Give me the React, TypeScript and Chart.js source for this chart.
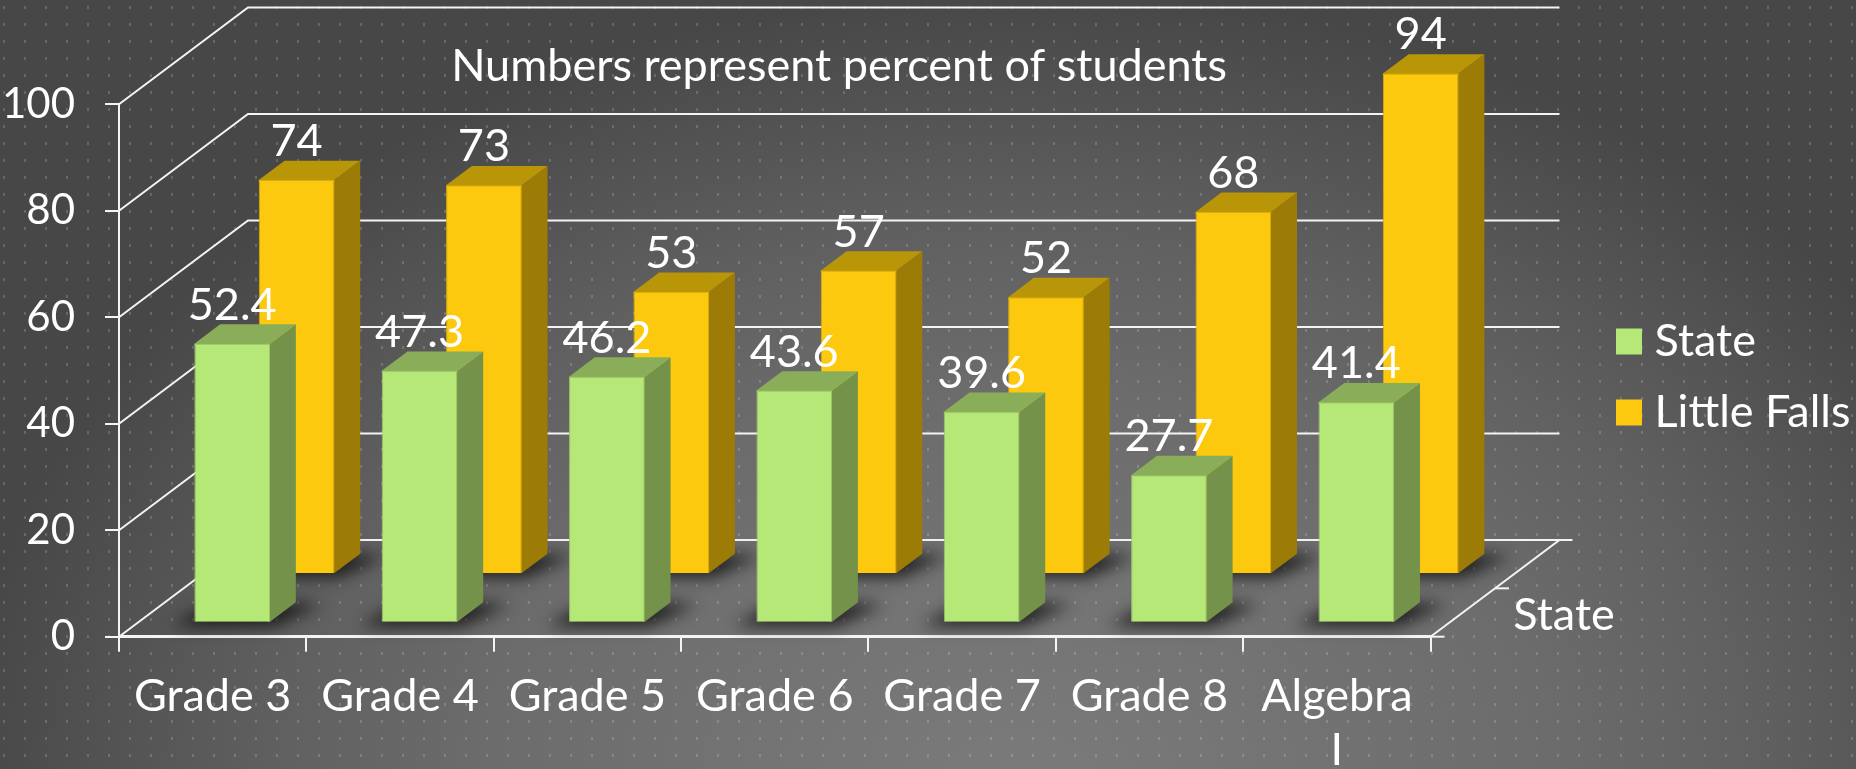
import React, { useEffect, useRef } from "react";
import { Chart, registerables } from "chart.js";

Chart.register(...registerables);

const categories = ["Grade 3", "Grade 4", "Grade 5", "Grade 6", "Grade 7", "Grade 8", ["Algebra", "I"]];
const stateValues = [52.4, 47.3, 46.2, 43.6, 39.6, 27.7, 41.4];
const littleFallsValues = [74, 73, 53, 57, 52, 68, 94];
const yTicks = [0, 20, 40, 60, 80, 100];
const titleText = "Numbers represent percent of students";
const depthLabel = "State";

const FONT = "Lato, 'Open Sans', sans-serif";
const FS = 45;
const WHITE = "#f4f4f4";
const DEPTH_X = 129;
const DEPTH_Y = 96.7;
const BAR_DEPTH = 0.2;
const looks = [
  { front: "#b6e878", edge: "#9cc766", side: "#75924a", top: "#8aad5a", depth: 0.145, nudge: 0.8 },
  { front: "#fdc90f", edge: "#d9ad0c", side: "#9d7b07", top: "#b99508", depth: 0.648, nudge: 0.3 },
];

function line(ctx: CanvasRenderingContext2D, pts: number[][]) {
  ctx.beginPath();
  pts.forEach((p, i) => (i ? ctx.lineTo(p[0], p[1]) : ctx.moveTo(p[0], p[1])));
}

const scene = {
  id: "scene",
  beforeDraw(chart: any) {
    const { ctx, width, height } = chart;
    ctx.save();
    ctx.translate(1020, 790);
    ctx.scale(1060, 800);
    const g = ctx.createRadialGradient(0, 0, 0, 0, 0, 1);
    g.addColorStop(0, "#7b7b7b");
    g.addColorStop(0.5, "#6c6c6c");
    g.addColorStop(0.7, "#606060");
    g.addColorStop(1, "#474747");
    ctx.fillStyle = g;
    ctx.fillRect(-2, -2, 4, 4);
    ctx.restore();
    ctx.fillStyle = "rgba(255,255,255,0.17)";
    for (let x = 3; x < width; x += 21) for (let y = 6; y < height; y += 17) ctx.fillRect(x, y, 2, 3);
  },
  afterLayout(chart: any) {
    const lg = chart.legend;
    if (!lg) return;
    const w = lg.width;
    const h = lg.height;
    lg.left = 1600;
    lg.right = 1600 + w;
    lg.top = 293;
    lg.bottom = 293 + h;
  },
  beforeDatasetsDraw(chart: any) {
    const { ctx, scales } = chart;
    const { left, right } = chart.chartArea;
    const y = scales.y;
    ctx.save();
    ctx.strokeStyle = WHITE;
    ctx.lineWidth = 2;
    yTicks.forEach((t) => {
      const py = y.getPixelForValue(t);
      line(ctx, [[left, py], [left + DEPTH_X, py - DEPTH_Y], [right + DEPTH_X, py - DEPTH_Y]]);
      ctx.stroke();
    });
    const y0 = y.getPixelForValue(0);
    line(ctx, [[right, y0], [right + DEPTH_X, y0 - DEPTH_Y], [right + DEPTH_X + 13, y0 - DEPTH_Y]]);
    ctx.stroke();
    line(ctx, [[right, y0], [right + 14, y0]]);
    ctx.stroke();
    line(ctx, [[right + DEPTH_X / 2, y0 - DEPTH_Y / 2], [right + DEPTH_X / 2 + 14, y0 - DEPTH_Y / 2]]);
    ctx.stroke();
    ctx.fillStyle = "#ffffff";
    ctx.textAlign = "center";
    ctx.textBaseline = "alphabetic";
    ctx.font = `${FS}px ${FONT}`;
    ctx.fillText(titleText, 839, 81);
    ctx.fillText(depthLabel, 1564, 630);
    ctx.restore();
  },
  beforeDatasetDraw(chart: any, args: any) {
    const { ctx } = chart;
    const look = looks[args.index];
    const dx = look.depth * DEPTH_X + look.nudge;
    const dy = -look.depth * DEPTH_Y;
    const w3 = BAR_DEPTH * DEPTH_X;
    const h3 = BAR_DEPTH * DEPTH_Y;
    ctx.save();
    ctx.translate(dx, dy);
    const bars = chart.getDatasetMeta(args.index).data;
    bars.forEach((el: any) => {
      const l = el.x - el.width / 2;
      const r = el.x + el.width / 2;
      ctx.save();
      ctx.filter = "blur(8px)";
      ctx.fillStyle = "rgba(0,0,0,0.72)";
      line(ctx, [[l - 22, el.base + 4], [r + 4, el.base + 4], [r + w3 + 26, el.base - h3 + 2], [l + w3, el.base - h3 - 2]]);
      ctx.fill();
      ctx.restore();
    });
    bars.forEach((el: any) => {
      const l = el.x - el.width / 2;
      const r = el.x + el.width / 2;
      ctx.fillStyle = look.side;
      line(ctx, [[r - 2, el.y], [r, el.y], [r + w3, el.y - h3], [r + w3, el.base - h3], [r, el.base], [r - 2, el.base]]);
      ctx.fill();
      ctx.fillStyle = look.top;
      line(ctx, [[l, el.y + 2], [l, el.y], [l + w3, el.y - h3], [r + w3, el.y - h3], [r, el.y], [r, el.y + 2]]);
      ctx.fill();
    });
  },
  afterDatasetDraw(chart: any) {
    chart.ctx.restore();
  },
  afterDatasetsDraw(chart: any) {
    const { ctx } = chart;
    ctx.save();
    ctx.fillStyle = "#ffffff";
    ctx.font = `${FS}px ${FONT}`;
    ctx.textAlign = "center";
    ctx.textBaseline = "alphabetic";
    [1, 0].forEach((i) => {
      const look = looks[i];
      const dx = look.depth * DEPTH_X + look.nudge;
      const dy = -look.depth * DEPTH_Y;
      chart.getDatasetMeta(i).data.forEach((el: any, k: number) => {
        ctx.fillText(String(chart.data.datasets[i].data[k]), el.x + dx, el.y + dy - 24);
      });
    });
    ctx.restore();
  },
};

export default function App() {
  const ref = useRef<HTMLCanvasElement>(null);
  useEffect(() => {
    const base = Chart.defaults.plugins.legend.labels.generateLabels;
    const chart = new Chart(ref.current as HTMLCanvasElement, {
      type: "bar",
      data: {
        labels: categories as any,
        datasets: [
          { label: "State", data: stateValues, backgroundColor: looks[0].front, borderColor: looks[0].edge, borderWidth: 1, clip: false as any },
          { label: "Little Falls", data: littleFallsValues, backgroundColor: looks[1].front, borderColor: looks[1].edge, borderWidth: 1, clip: false as any },
        ],
      },
      options: {
        animation: false,
        responsive: false,
        grouped: false,
        barPercentage: 0.404,
        categoryPercentage: 1,
        layout: { padding: { top: 104.2, right: 425.5, left: 0, bottom: 0 } },
        font: { family: FONT },
        plugins: {
          tooltip: { enabled: false },
          title: { display: false },
          legend: {
            position: "chartArea",
            align: "start",
            labels: {
              color: "#ffffff",
              font: { family: FONT, size: FS },
              padding: 26,
              boxWidth: 6,
              boxHeight: 6,
              generateLabels(c: any) {
                return base(c).map((it: any) => ({ ...it, strokeStyle: it.fillStyle, lineWidth: 20 }));
              },
            },
          },
        },
        scales: {
          x: {
            grid: { color: WHITE, lineWidth: 2, drawOnChartArea: false, drawTicks: true, tickLength: 15 },
            border: { color: WHITE, width: 3 },
            ticks: { color: "#ffffff", font: { family: FONT, size: FS, lineHeight: 1.2 }, padding: 18, maxRotation: 0, autoSkip: false },
            afterFit(s: any) { s.height = 132.3; },
          },
          y: {
            min: 0,
            max: 100,
            afterBuildTicks(s: any) { s.ticks = yTicks.map((value) => ({ value })); },
            grid: { color: WHITE, lineWidth: 2, drawOnChartArea: false, drawTicks: true, tickLength: 14 },
            border: { color: WHITE, width: 2 },
            ticks: { color: "#ffffff", font: { family: FONT, size: 42 }, padding: 30 },
            afterFit(s: any) { s.width = 119; },
          },
        },
      } as any,
      plugins: [scene],
    });
    return () => chart.destroy();
  }, []);
  return (
    <div style={{ position: "absolute", left: 0, top: 0, width: 1856, height: 769, overflow: "hidden" }}>
      <canvas ref={ref} width={1856} height={769} style={{ display: "block" }} />
    </div>
  );
}
